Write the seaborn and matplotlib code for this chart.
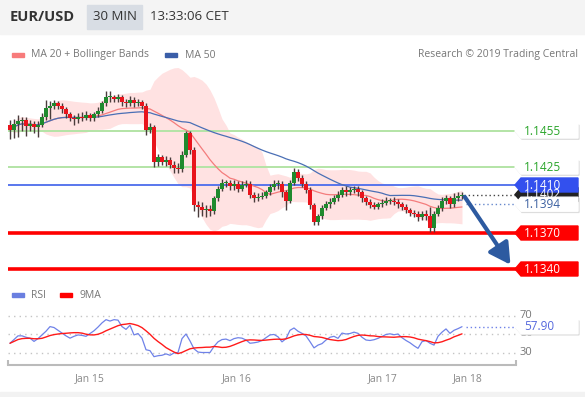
import matplotlib
matplotlib.use("Agg")
import matplotlib.pyplot as plt
import seaborn as sns
import numpy as np
import pandas as pd
from matplotlib.patches import Polygon, Rectangle
from matplotlib import transforms

W, H = 585, 397

# --- 30 min EUR/USD candles ---
opens = [1.1460, 1.1456, 1.1461, 1.1463, 1.1464, 1.1459, 1.1461, 1.1458, 1.1460, 1.1467,
         1.1474, 1.1476, 1.1478, 1.1476, 1.1473, 1.1469, 1.1466, 1.1465, 1.1467, 1.1466,
         1.1468, 1.1466, 1.1469, 1.1472, 1.1478, 1.1483, 1.1483, 1.1482, 1.1483, 1.1479,
         1.1478, 1.1481, 1.1478, 1.1479, 1.1476, 1.1456, 1.1458, 1.1429, 1.1433, 1.1429,
         1.1431, 1.1427, 1.1424, 1.1423, 1.1435, 1.1453, 1.1439, 1.1393, 1.1392, 1.1389,
         1.1390, 1.1388, 1.1399, 1.1407, 1.1412, 1.1412, 1.1409, 1.1411, 1.1407, 1.1410,
         1.1411, 1.1402, 1.1399, 1.1400, 1.1401, 1.1404, 1.1408, 1.1411, 1.1411, 1.1404,
         1.1397, 1.1412, 1.1421, 1.1416, 1.1411, 1.1406, 1.1393, 1.1379, 1.1384, 1.1391,
         1.1394, 1.1396, 1.1399, 1.1402, 1.1406, 1.1404, 1.1406, 1.1407, 1.1404, 1.1399,
         1.1396, 1.1393, 1.1392, 1.1394, 1.1395, 1.1397, 1.1397, 1.1396, 1.1394, 1.1392,
         1.1389, 1.1387, 1.1386, 1.1383, 1.1386, 1.1384, 1.1374, 1.1386, 1.1391, 1.1397,
         1.1399, 1.1394, 1.1399, 1.1401]
highs = [1.1464, 1.1465, 1.1468, 1.1467, 1.1467, 1.1464, 1.1463, 1.1463, 1.1470, 1.1481,
         1.1480, 1.1481, 1.1480, 1.1478, 1.1475, 1.1471, 1.1468, 1.1470, 1.1471, 1.1472,
         1.1470, 1.1471, 1.1475, 1.1480, 1.1488, 1.1488, 1.1485, 1.1486, 1.1485, 1.1482,
         1.1484, 1.1483, 1.1482, 1.1481, 1.1478, 1.1462, 1.1460, 1.1436, 1.1435, 1.1434,
         1.1433, 1.1430, 1.1428, 1.1438, 1.1455, 1.1455, 1.1442, 1.1397, 1.1396, 1.1393,
         1.1393, 1.1401, 1.1409, 1.1415, 1.1414, 1.1414, 1.1414, 1.1413, 1.1413, 1.1414,
         1.1413, 1.1404, 1.1403, 1.1404, 1.1406, 1.1411, 1.1414, 1.1414, 1.1413, 1.1406,
         1.1414, 1.1424, 1.1423, 1.1418, 1.1413, 1.1408, 1.1395, 1.1386, 1.1393, 1.1397,
         1.1399, 1.1402, 1.1405, 1.1408, 1.1409, 1.1408, 1.1409, 1.1409, 1.1406, 1.1401,
         1.1398, 1.1396, 1.1396, 1.1398, 1.1400, 1.1399, 1.1400, 1.1398, 1.1396, 1.1394,
         1.1391, 1.1389, 1.1388, 1.1388, 1.1389, 1.1392, 1.1388, 1.1393, 1.1400, 1.1402,
         1.1401, 1.1403, 1.1404, 1.1404]
lows = [1.1448, 1.1449, 1.1450, 1.1455, 1.1451, 1.1455, 1.1453, 1.1450, 1.1458, 1.1464,
        1.1465, 1.1473, 1.1473, 1.1470, 1.1466, 1.1463, 1.1460, 1.1462, 1.1463, 1.1464,
        1.1463, 1.1463, 1.1467, 1.1470, 1.1476, 1.1479, 1.1479, 1.1479, 1.1476, 1.1475,
        1.1476, 1.1475, 1.1476, 1.1473, 1.1452, 1.1453, 1.1425, 1.1426, 1.1427, 1.1426,
        1.1424, 1.1420, 1.1420, 1.1421, 1.1433, 1.1436, 1.1388, 1.1383, 1.1384, 1.1383,
        1.1384, 1.1386, 1.1397, 1.1405, 1.1408, 1.1406, 1.1406, 1.1404, 1.1405, 1.1408,
        1.1399, 1.1396, 1.1397, 1.1398, 1.1399, 1.1402, 1.1406, 1.1407, 1.1400, 1.1389,
        1.1395, 1.1410, 1.1413, 1.1408, 1.1403, 1.1390, 1.1377, 1.1377, 1.1382, 1.1389,
        1.1391, 1.1394, 1.1397, 1.1400, 1.1401, 1.1402, 1.1403, 1.1401, 1.1396, 1.1393,
        1.1391, 1.1390, 1.1390, 1.1392, 1.1393, 1.1394, 1.1393, 1.1391, 1.1389, 1.1387,
        1.1384, 1.1383, 1.1380, 1.1381, 1.1381, 1.1371, 1.1371, 1.1384, 1.1388, 1.1394,
        1.1391, 1.1392, 1.1397, 1.1398]
closes = [1.1456, 1.1461, 1.1463, 1.1464, 1.1459, 1.1461, 1.1458, 1.1460, 1.1467, 1.1474,
          1.1476, 1.1478, 1.1476, 1.1473, 1.1469, 1.1466, 1.1465, 1.1467, 1.1466, 1.1468,
          1.1466, 1.1469, 1.1472, 1.1478, 1.1483, 1.1483, 1.1482, 1.1483, 1.1479, 1.1478,
          1.1481, 1.1478, 1.1479, 1.1476, 1.1456, 1.1458, 1.1429, 1.1433, 1.1429, 1.1431,
          1.1427, 1.1424, 1.1423, 1.1435, 1.1453, 1.1439, 1.1393, 1.1392, 1.1389, 1.1390,
          1.1388, 1.1399, 1.1407, 1.1412, 1.1412, 1.1409, 1.1411, 1.1407, 1.1410, 1.1411,
          1.1402, 1.1399, 1.1400, 1.1401, 1.1404, 1.1408, 1.1411, 1.1411, 1.1404, 1.1397,
          1.1412, 1.1421, 1.1416, 1.1411, 1.1406, 1.1393, 1.1379, 1.1384, 1.1391, 1.1394,
          1.1396, 1.1399, 1.1402, 1.1406, 1.1404, 1.1406, 1.1407, 1.1404, 1.1399, 1.1396,
          1.1393, 1.1392, 1.1394, 1.1395, 1.1397, 1.1397, 1.1396, 1.1394, 1.1392, 1.1389,
          1.1387, 1.1386, 1.1383, 1.1386, 1.1384, 1.1374, 1.1386, 1.1391, 1.1397, 1.1399,
          1.1394, 1.1399, 1.1401, 1.1402]
rsi_values = [40, 44, 48, 48, 46.5, 45.5, 42, 45, 49, 53,
              58, 57, 54, 51, 48, 45.5, 47.5, 49, 48.5, 47.5,
              50.5, 53.5, 57.5, 62, 65.5, 64, 65.5, 65, 58, 55,
              59.5, 49, 50.5, 45.5, 33, 32, 25.5, 26.5, 27, 28.5,
              27, 29.5, 30, 45, 50, 42.5, 34, 30.5, 30, 30,
              30, 36.5, 41.5, 44, 44.5, 42.8, 45, 46, 45.5, 43.5,
              40, 40.5, 41.3, 43, 46, 49, 49.5, 47, 41.5, 45,
              54, 56.5, 53, 50.7, 48, 41.7, 35, 38, 39.6, 43.5,
              46.5, 47.5, 45.3, 51, 50, 50.5, 52, 50.7, 46.5, 43.5,
              43, 43.8, 45.3, 47.3, 49.5, 50.2, 49.2, 50, 46, 43,
              40.5, 37.3, 34.5, 41.7, 43, 40, 38, 47.5, 52, 55.5,
              50.7, 54, 55.8, 57.9]

date_ticks = [20, 56.75, 93.25, 114.5]
date_labels = ["Jan 15", "Jan 16", "Jan 17", "Jan 18"]

resistances = [1.1455, 1.1425]
pivot = 1.1410
supports = [1.1370, 1.1340]
ma50_last = 1.1394
last_price = 1.1402
rsi_last = 57.90
rsi_levels = [70, 50, 30]

df = pd.DataFrame({"open": opens, "high": highs, "low": lows, "close": closes, "rsi": rsi_values})
df["idx"] = np.arange(len(df))
df["ma20"] = df["close"].rolling(20, min_periods=1).mean()
sd = df["close"].rolling(20, min_periods=1).std(ddof=0)
df["upper"] = df["ma20"] + 2 * sd
df["lower"] = df["ma20"] - 2 * sd
df["ma50"] = df["close"].rolling(50, min_periods=1).mean()
df["rsi_ma"] = df["rsi"].rolling(9, min_periods=1).mean()

sns.set_theme(style="white")
plt.rcParams["font.family"] = ["Open Sans", "DejaVu Sans"]

fig = plt.figure(figsize=(W / 100, H / 100), dpi=100)
fig.patch.set_facecolor("white")


def box(x0, y0, x1, y1):
    # pixel box (top-left origin) -> figure fraction
    return [x0 / W, 1 - y1 / H, (x1 - x0) / W, (y1 - y0) / H]


def fx(px):
    return px / W


def fy(py):
    return 1 - py / H


# header
fig.patches.append(Rectangle((0, fy(34)), 1, 34 / H, transform=fig.transFigure, color="#f4f4f4", zorder=0))
fig.patches.append(Rectangle((fx(87), fy(29)), 55 / W, 24 / H, transform=fig.transFigure, color="#d8dde4", zorder=1))
fig.text(fx(10), fy(17), "EUR/USD", fontsize=10.5, weight="bold", color="#333333", va="center")
fig.text(fx(93), fy(17), "30 MIN", fontsize=9.5, color="#333333", va="center")
fig.text(fx(150), fy(17), "13:33:06 CET", fontsize=9.5, color="#333333", va="center")
fig.patches.append(Rectangle((0, 0), 1, 5 / H, transform=fig.transFigure, color="#f2f2f2", zorder=0))

# legends
fig.patches.append(Rectangle((fx(12), fy(57)), 12 / W, 4 / H, transform=fig.transFigure, color="#f77b7b"))
fig.text(fx(31), fy(55), "MA 20 + Bollinger Bands", fontsize=7.5, color="#777777", va="center")
fig.patches.append(Rectangle((fx(165), fy(57)), 12 / W, 4 / H, transform=fig.transFigure, color="#3a5ea8"))
fig.text(fx(185), fy(55), "MA 50", fontsize=7.5, color="#777777", va="center")
fig.text(fx(578), fy(55), "Research \u00a9 2019 Trading Central", fontsize=7.5, color="#777777",
         va="center", ha="right")
fig.patches.append(Rectangle((fx(12), fy(297)), 12 / W, 4 / H, transform=fig.transFigure, color="#6a7fe0"))
fig.text(fx(31), fy(295), "RSI", fontsize=7.5, color="#777777", va="center")
fig.patches.append(Rectangle((fx(60), fy(297)), 12 / W, 4 / H, transform=fig.transFigure, color="#ff0000"))
fig.text(fx(79), fy(295), "9MA", fontsize=7.5, color="#777777", va="center")

# --- price panel ---
ax = fig.add_axes(box(8, 65, 516, 285))
ax.set_xlim(-0.5, 126.5)
ppx = 12000.0  # pixels per unit of price
ax.set_ylim(1.1455 - (285 - 131) / ppx, 1.1455 + (131 - 65) / ppx)
ax.axis("off")

ax.fill_between(df["idx"], df["lower"], df["upper"], color="#ffe2e2", lw=0, zorder=1)

for lv in resistances:
    ax.axhline(lv, color="#b3e4a6", lw=1.4, zorder=2)
ax.axhline(pivot, color="#4c6cec", lw=1.3, zorder=2)
for lv in supports:
    ax.axhline(lv, color="#ff0000", lw=2.6, zorder=2)

sns.lineplot(x=df["idx"], y=df["ma20"], color="#f47c7c", lw=0.9, ax=ax, zorder=3, legend=False)
sns.lineplot(x=df["idx"], y=df["ma50"], color="#4a6fb5", lw=0.9, ax=ax, zorder=3, legend=False)

up = df["close"] >= df["open"]
ax.vlines(df["idx"], df["low"], df["high"], color="#4a3c3c", lw=1.0, zorder=4)
body_lo = np.minimum(df["open"], df["close"])
body_h = np.maximum(np.abs(df["close"] - df["open"]), 0.00008)
ax.bar(df["idx"], body_h, bottom=body_lo, width=0.8,
       color=np.where(up, "#1f8a2e", "#e8141c"), zorder=5, linewidth=0)

last_x = df["idx"].iloc[-1]
ax.plot([last_x + 0.5, 126.5], [last_price, last_price], ls=(0, (1, 2)), color="#444444", lw=1, zorder=3)
ax.plot([last_x + 1, 126.5], [ma50_last, ma50_last], ls=(0, (1, 2)), color="#6688cc", lw=1, zorder=3)

ax.annotate("", xy=(125.5, 1.1455 - (267 - 131) / ppx), xytext=(last_x + 0.3, last_price),
            arrowprops=dict(arrowstyle="-|>,head_length=0.9,head_width=0.5", color="#2d5aa0",
                            lw=3, mutation_scale=14), zorder=6)


def tag(axis, value, scale, face, txt_color, text, shadow=True):
    tr = transforms.blended_transform_factory(fig.transFigure, axis.transData)
    h = 7 / scale
    pts = [(fx(515), value), (fx(521), value + h), (fx(578), value + h), (fx(578), value - h), (fx(521), value - h)]
    if shadow:
        d = 1.2 / scale
        sp = [(x + 1 / W, y - d) for x, y in pts]
        axis.add_patch(Polygon(sp, closed=True, transform=tr, color="#dddddd", clip_on=False, zorder=7))
    axis.add_patch(Polygon(pts, closed=True, transform=tr, color=face, clip_on=False, zorder=8))
    axis.text(fx(524), value, text, transform=tr, fontsize=8.5, color=txt_color, va="center",
              ha="left", clip_on=False, zorder=9)


for lv in resistances:
    tag(ax, lv, ppx, "white", "#2aa52a", f"{lv:.4f}")
tag(ax, last_price, ppx, "#222222", "white", f"{last_price:.4f}", shadow=False)
tag(ax, ma50_last, ppx, "white", "#3a5fa0", f"{ma50_last:.4f}")
tag(ax, pivot, ppx, "#3350ee", "white", f"{pivot:.4f}", shadow=False)
for lv in supports:
    tag(ax, lv, ppx, "#ff0000", "white", f"{lv:.4f}", shadow=False)

# --- RSI panel ---
rax = fig.add_axes(box(8, 300, 516, 365))
rax.set_xlim(-0.5, 126.5)
rpx = 0.925
rax.set_ylim(50 - (365 - 334) / rpx, 50 + (334 - 300) / rpx)
rax.set_facecolor("none")
for s in ["top", "left", "right"]:
    rax.spines[s].set_visible(False)
rax.spines["bottom"].set_color("#bbbbbb")
rax.spines["bottom"].set_linewidth(1.5)
rax.vlines([0, 1], 0, 0.07, transform=rax.transAxes, color="#bbbbbb", lw=1.5, clip_on=False)

for lv in rsi_levels:
    rax.axhline(lv, color="#c4c4c4", ls=(0, (1, 3)), lw=1, zorder=1)
    rax.text(fx(520), lv, str(lv), transform=transforms.blended_transform_factory(fig.transFigure, rax.transData),
             fontsize=8, color="#777777", va="center", ha="left")

sns.lineplot(x=df["idx"], y=df["rsi"], color="#6f82e8", lw=0.9, ax=rax, legend=False, zorder=3)
sns.lineplot(x=df["idx"], y=df["rsi_ma"], color="#ff1a1a", lw=1.0, ax=rax, legend=False, zorder=4)
rax.plot([last_x + 1, 126.5], [rsi_last, rsi_last], ls=(0, (1, 2)), color="#6f82e8", lw=1, zorder=3)
tag(rax, rsi_last, rpx, "white", "#5568dd", f"{rsi_last:.2f}")

rax.set_yticks([])
rax.set_xticks(date_ticks)
rax.set_xticklabels(date_labels, fontsize=7.5, color="#888888")
rax.tick_params(axis="x", length=0, pad=6)
rax.set_xlabel("")
rax.set_ylabel("")

fig.savefig("out.png", dpi=100)
